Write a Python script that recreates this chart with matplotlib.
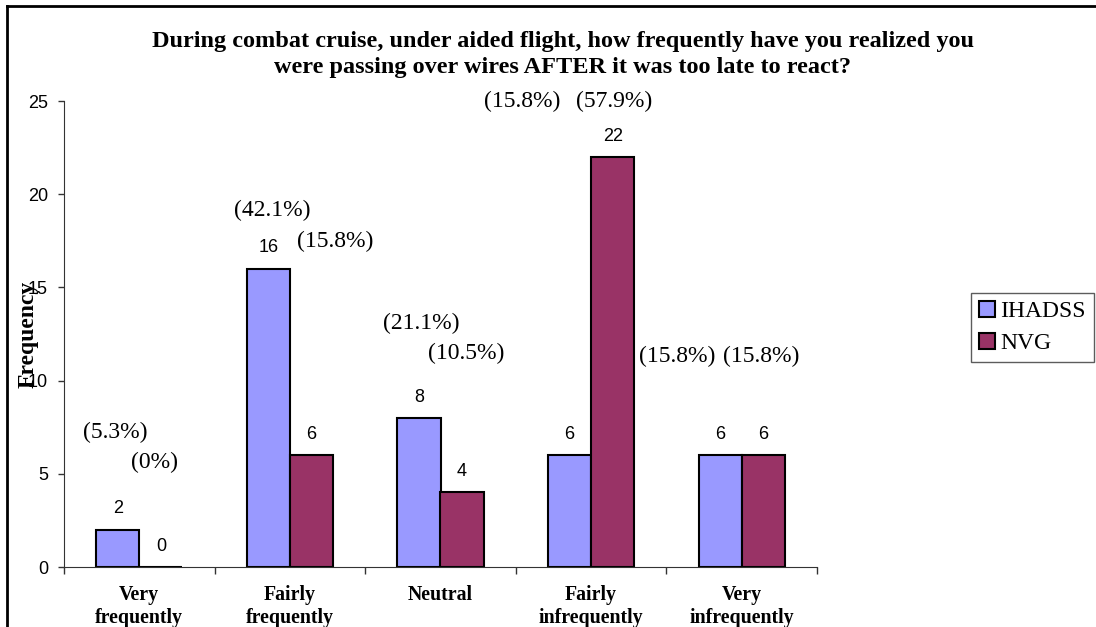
import matplotlib
matplotlib.use("Agg")
import matplotlib.pyplot as plt
from matplotlib.lines import Line2D
from matplotlib.patches import Patch
import numpy as np

categories = ["Very\nfrequently", "Fairly\nfrequently", "Neutral", "Fairly\ninfrequently", "Very\ninfrequently"]
series_names = ["IHADSS", "NVG"]
ihadss = [2, 16, 8, 6, 6]
nvg = [0, 6, 4, 22, 6]
ihadss_pct = ["(5.3%)", "(42.1%)", "(21.1%)", "(15.8%)", "(15.8%)"]
nvg_pct = ["(0%)", "(15.8%)", "(10.5%)", "(57.9%)", "(15.8%)"]
yticks = [0, 5, 10, 15, 20, 25]
title_lines = ["During combat cruise, under aided flight, how frequently have you realized you",
               "were passing over wires AFTER it was too late to react?"]

# hand placement of the percentage labels (data coords), as in the original
ihadss_pct_pos = [(-0.16, 7.24), (0.88, 19.15), (1.87, 13.04), (2.54, 25.0), (3.57, 11.32)]
nvg_pct_pos = [(0.10, 5.63), (1.30, 17.49), (2.17, 11.48), (3.15, 25.0), (4.13, 11.32)]

c1 = "#9999FF"
c2 = "#993366"
W, H = 1096, 627

fig = plt.figure(figsize=(W/100, H/100), dpi=100)
ax = fig.add_axes([64/W, 1-567/H, (817-64)/W, (567-101)/H])

x = np.arange(len(categories))
w = 0.286
b1 = ax.bar(x - w/2, ihadss, w, color=c1, edgecolor="black", linewidth=1.5)
b2 = ax.bar(x + w/2, nvg, w, color=c2, edgecolor="black", linewidth=1.5)

for bars, vals in ((b1, ihadss), (b2, nvg)):
    for r, v in zip(bars, vals):
        ax.annotate(str(v), (r.get_x() + r.get_width()/2, v), xytext=(0, 15),
                    textcoords="offset points", ha="center", va="center",
                    fontsize=13, family="Liberation Sans")

for labels, pos in ((ihadss_pct, ihadss_pct_pos), (nvg_pct, nvg_pct_pos)):
    for t, (px, py) in zip(labels, pos):
        ax.text(px, py, t, ha="center", va="center", fontsize=17,
                family="Liberation Serif", clip_on=False)

ax.set_xlim(-0.5, len(categories) - 0.5)
ax.set_ylim(0, 25)
ax.set_yticks(yticks)
ax.set_yticklabels([str(t) for t in yticks], fontsize=13, family="Liberation Sans")
ax.set_xticks(x)
ax.set_xticklabels(categories, fontsize=14.3, fontweight="bold", family="Liberation Serif",
                   linespacing=1.2)
ax.set_xticks(np.arange(len(categories) + 1) - 0.5, minor=True)
ax.tick_params(axis="x", which="major", length=0, pad=13)
ax.tick_params(axis="x", which="minor", length=5, direction="out", width=1, color="#333333")
ax.tick_params(axis="y", length=4.5, direction="out", width=1, pad=7, color="#333333")
for s in ("top", "right"):
    ax.spines[s].set_visible(False)
ax.spines["left"].set_color("#333333")
ax.spines["bottom"].set_color("#333333")

fig.text(28/W, 1-334/H, "Frequency", rotation=90, ha="center", va="center",
         fontsize=17, fontweight="bold", family="Liberation Serif")
fig.text(563/W, 1-46.7/H, title_lines[0], ha="center", va="baseline", fontsize=17.5,
         fontweight="bold", family="Liberation Serif")
fig.text(563/W, 1-73/H, title_lines[1], ha="center", va="baseline", fontsize=17.5,
         fontweight="bold", family="Liberation Serif")

handles = [Patch(facecolor=c1, edgecolor="black", linewidth=1.5),
           Patch(facecolor=c2, edgecolor="black", linewidth=1.5)]
leg = fig.legend(handles, series_names, loc="upper left",
                 bbox_to_anchor=(971/W, 1-292.7/H), frameon=True, fancybox=False,
                 prop={"family": "Liberation Serif", "size": 17},
                 handlelength=0.65, handleheight=0.65, handletextpad=0.25,
                 borderpad=0.35, labelspacing=0.45, borderaxespad=0)
leg.get_frame().set_edgecolor("#333333")
leg.get_frame().set_linewidth(1)

fig.add_artist(Line2D([7/W, 1], [1-6/H, 1-6/H], color="black", lw=2, transform=fig.transFigure))
fig.add_artist(Line2D([7/W, 7/W], [0, 1-6/H], color="black", lw=2, transform=fig.transFigure))

fig.savefig("out.png", dpi=100)
